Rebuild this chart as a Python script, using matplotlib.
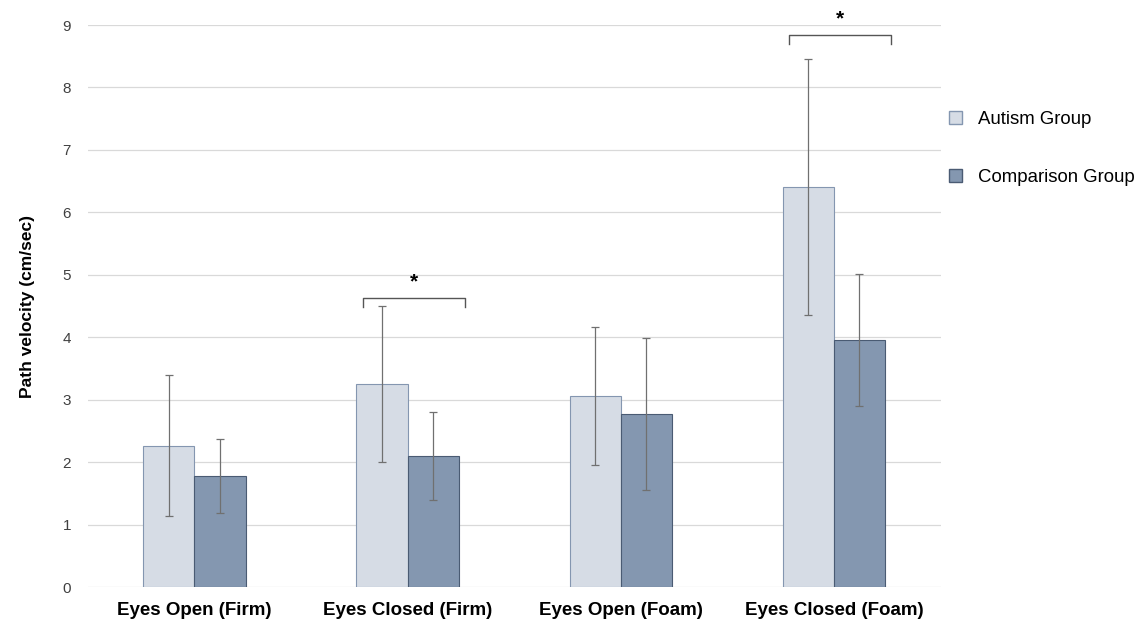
import numpy as np
import matplotlib.pyplot as plt
import matplotlib
from matplotlib.patches import Patch

matplotlib.rc('font', family='Liberation Sans')

categories = ['Eyes Open (Firm)', 'Eyes Closed (Firm)', 'Eyes Open (Foam)', 'Eyes Closed (Foam)']
autism_mean = [2.26, 3.25, 3.06, 6.41]
autism_sd = [1.13, 1.25, 1.10, 2.05]
comp_mean = [1.78, 2.10, 2.77, 3.96]
comp_sd = [0.59, 0.71, 1.22, 1.06]
sig_pairs = [1, 3]
sig_heights = [4.63, 8.84]

fig = plt.figure(figsize=(11.4, 6.21), dpi=100)
ax = fig.add_axes([0.077, 0.0547, 0.748, 0.905])

x = np.arange(len(categories))
w = 0.24
ax.bar(x - w/2, autism_mean, w, color='#d6dce5', edgecolor='#8496b0', linewidth=0.8, zorder=2)
ax.bar(x + w/2, comp_mean, w, color='#8497b0', edgecolor='#4a5b73', linewidth=0.8, zorder=2)
ax.errorbar(x - w/2, autism_mean, yerr=autism_sd, fmt='none', ecolor='#707070',
            elinewidth=0.9, capsize=3, capthick=0.9, zorder=3)
ax.errorbar(x + w/2, comp_mean, yerr=comp_sd, fmt='none', ecolor='#707070',
            elinewidth=0.9, capsize=3, capthick=0.9, zorder=3)

# significance brackets
for i, h in zip(sig_pairs, sig_heights):
    x0, x1 = i - w + 0.03, i + w + 0.03
    ax.plot([x0, x0, x1, x1], [h - 0.14, h, h, h - 0.14], color='#555555', lw=1, zorder=3)
    ax.text((x0 + x1) / 2, h + 0.1, '*', ha='center', va='bottom', fontsize=15,
            fontweight='bold')

ax.set_xlim(-0.5, 3.5)
ax.set_ylim(0, 9)
ax.set_yticks(range(10))
ax.set_xticks(x)
ax.set_xticklabels(categories, fontweight='bold', fontsize=13.5)
ax.tick_params(axis='both', length=0)
ax.tick_params(axis='y', labelsize=11, pad=12, colors='#404040')
ax.tick_params(axis='x', pad=11)
ax.grid(axis='y', color='#d9d9d9', lw=0.9, zorder=0)
ax.set_axisbelow(True)
for s in ax.spines.values():
    s.set_visible(False)
ax.set_ylabel('Path velocity (cm/sec)', fontweight='bold', fontsize=12.5, labelpad=20)

handles = [Patch(facecolor='#d6dce5', edgecolor='#8496b0', label='Autism Group'),
           Patch(facecolor='#8497b0', edgecolor='#4a5b73', label='Comparison Group')]
fig.legend(handles=handles, loc='upper left', bbox_to_anchor=(0.818, 0.848), frameon=False,
           fontsize=13.4, handlelength=0.7, handleheight=0.7, labelspacing=2.2, handletextpad=0.85)

fig.savefig('out.png', dpi=100)
